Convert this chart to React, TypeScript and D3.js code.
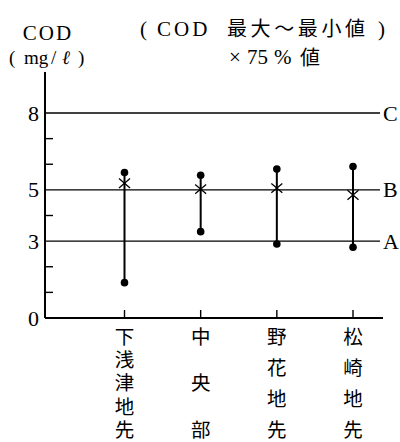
import React from "react";
import * as d3 from "d3";

const categories = ["下浅津地先", "中央部", "野花地先", "松崎地先"];
const maxValues = [5.68, 5.57, 5.81, 5.91];
const minValues = [1.38, 3.37, 2.89, 2.76];
const p75Values = [5.26, 5.03, 5.07, 4.8];
const refLines = [
  { label: "C", value: 8 },
  { label: "B", value: 5 },
  { label: "A", value: 3 },
];
const tickLabels = [0, 3, 5, 8];
const minorTicks = [1, 2, 4, 6, 7];

const W = 400;
const H = 442;
const serif = "'Liberation Serif', 'DejaVu Serif', serif";
const cjk = "'Noto Sans CJK JP', 'Noto Sans CJK SC', sans-serif";

export default function App() {
  const y = d3.scaleLinear().domain([0, 8]).range([318, 113]);
  const x = d3.scalePoint<string>().domain(categories).range([124.5, 353]);
  const axisX = 45;
  const axisRight = 383;
  const axisTop = y(9.6);
  const lineEnd = 380;

  const labelTop = 327;
  const labelBottom = 439;
  const labelFs = 19.5;

  return (
    <svg
      width={W}
      height={H}
      style={{ position: "absolute", left: 0, top: 0, background: "#fff" }}
    >
      {/* header: unit */}
      <text x={48} y={40} textAnchor="middle" fontFamily={serif} fontSize={21} letterSpacing={2}>
        COD
      </text>
      <text y={64} fontFamily={serif} fontSize={19}>
        <tspan x={9}>(</tspan>
        <tspan x={24}>mg</tspan>
        <tspan x={51}>/</tspan>
        <tspan x={62} fontStyle="italic">ℓ</tspan>
        <tspan x={78}>)</tspan>
      </text>

      {/* header: legend title */}
      <text y={36} fontSize={21}>
        <tspan x={140} fontFamily={serif}>(</tspan>
        <tspan x={157} fontFamily={serif} letterSpacing={3}>COD</tspan>
        <tspan x={227} fontFamily={cjk} fontSize={20} letterSpacing={3.6}>最大～最小値</tspan>
        <tspan x={378} fontFamily={serif}>)</tspan>
      </text>
      <text y={64} fontSize={21}>
        <tspan x={229} fontFamily={serif}>×</tspan>
        <tspan x={247} fontFamily={serif}>75</tspan>
        <tspan x={274} fontFamily={serif}>%</tspan>
      </text>
      <text x={300} y={65} fontFamily={cjk} fontSize={20}>
        値
      </text>

      {/* reference lines */}
      {refLines.map((r) => (
        <g key={r.label}>
          <line x1={axisX} x2={lineEnd} y1={y(r.value)} y2={y(r.value)} stroke="#000" strokeWidth={1.4} />
          <text x={383} y={y(r.value)} dominantBaseline="central" fontFamily={serif} fontSize={22}>
            {r.label}
          </text>
        </g>
      ))}

      {/* axes */}
      <line x1={axisX} x2={axisX} y1={axisTop} y2={y(0)} stroke="#000" strokeWidth={2} />
      <line x1={axisX} x2={axisRight} y1={y(0)} y2={y(0)} stroke="#000" strokeWidth={2} />
      {minorTicks.map((t) => (
        <line key={t} x1={axisX} x2={axisX + 8} y1={y(t)} y2={y(t)} stroke="#000" strokeWidth={1.4} />
      ))}
      {tickLabels.map((t) => (
        <text key={t} x={39} y={y(t)} textAnchor="end" dominantBaseline="central" fontFamily={serif} fontSize={22}>
          {t}
        </text>
      ))}
      {categories.map((c) => (
        <line key={c} x1={x(c)!} x2={x(c)!} y1={y(0)} y2={y(0) - 8} stroke="#000" strokeWidth={1.4} />
      ))}

      {/* ranges */}
      {categories.map((c, i) => {
        const cx = x(c)!;
        const py = y(p75Values[i]);
        const s = 5.5;
        return (
          <g key={c}>
            <line x1={cx} x2={cx} y1={y(maxValues[i])} y2={y(minValues[i])} stroke="#000" strokeWidth={2} />
            <circle cx={cx} cy={y(maxValues[i])} r={3.8} fill="#000" />
            <circle cx={cx} cy={y(minValues[i])} r={3.8} fill="#000" />
            <line x1={cx - s} x2={cx + s} y1={py - s * 0.85} y2={py + s * 0.85} stroke="#000" strokeWidth={1.3} />
            <line x1={cx - s} x2={cx + s} y1={py + s * 0.85} y2={py - s * 0.85} stroke="#000" strokeWidth={1.3} />
          </g>
        );
      })}

      {/* vertical category labels */}
      {categories.map((c) => {
        const chars = Array.from(c);
        const n = chars.length;
        const ls = n > 1 ? (labelBottom - labelTop - labelFs) / (n - 1) - labelFs : 0;
        const head = chars.slice(0, n - 1).join("");
        const last = chars[n - 1];
        return (
          <text
            key={c}
            x={x(c)!}
            y={labelTop}
            fontFamily={cjk}
            fontSize={labelFs}
            style={{ writingMode: "vertical-rl", textOrientation: "upright" }}
          >
            <tspan style={{ letterSpacing: `${ls}px` }}>{head}</tspan>
            <tspan style={{ letterSpacing: "0px" }}>{last}</tspan>
          </text>
        );
      })}
    </svg>
  );
}
